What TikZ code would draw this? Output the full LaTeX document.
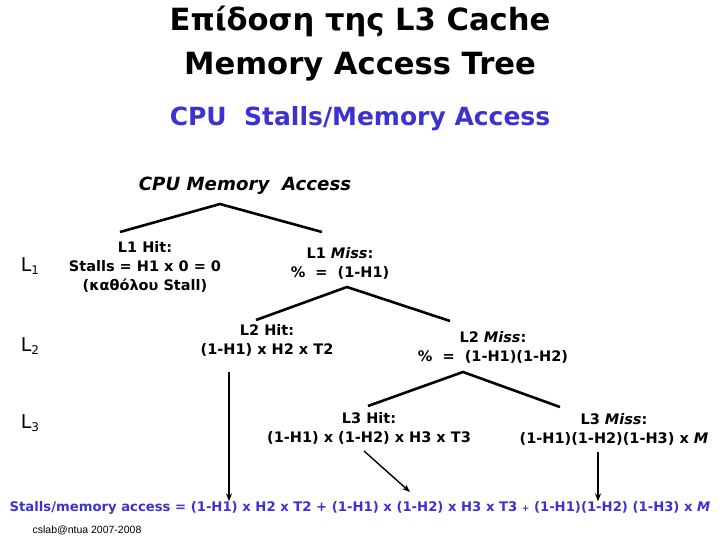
\documentclass[tikz,border=0pt]{standalone}
\usepackage{fontspec}
\setmainfont{DejaVu Sans}
\newfontfamily\footfont{Liberation Sans}
\usepackage{tikz}
\usetikzlibrary{arrows.meta,positioning}
\definecolor{slideblue}{RGB}{60,50,210}
\newcommand{\lev}[1]{L{\raisebox{-0.35ex}{\fontsize{12}{12}\selectfont #1}}}

\begin{document}
\begin{tikzpicture}[
  x=1pt, y=-1pt,
  ttl/.style={align=center, font=\bfseries\fontsize{30.6}{44}\selectfont, inner sep=0pt},
  sub/.style={text=slideblue, font=\bfseries\fontsize{25}{30}\selectfont, inner sep=0pt},
  lbl/.style={align=center, font=\bfseries\fontsize{14.5}{19}\selectfont, inner sep=0pt},
  lvl/.style={font=\fontsize{19}{24}\selectfont, inner sep=0pt},
  branch/.style={line width=2.6pt},
  arrow/.style={-{Stealth[length=8pt,width=6pt]}, line width=1.4pt}
]
\useasboundingbox (0,0) rectangle (720,540);
% headings
\node[ttl] (title) at (360,44) {Επίδοση της L3 Cache\\Memory Access Tree};
\node[sub] (stalls) at (360,119) {CPU\ \ Stalls/Memory Access};
\node[font=\bfseries\itshape\fontsize{18.2}{23}\selectfont, inner sep=0pt] (root) at (245,186) {CPU Memory\ \ Access};
% levels
\node[lvl] (lev1) at (30,266) {\lev{1}};
\node[lvl] (lev2) at (30,346) {\lev{2}};
\node[lvl] (lev3) at (30,423) {\lev{3}};
% tree nodes
\node[lbl] (l1hit) at (145,267) {L1 Hit:\\Stalls = H1 x 0 = 0\\(καθόλου Stall)};
\node[lbl] (l1miss) at (340,263) {L1 \textit{Miss}:\\\% \ = \ (1-H1)};
\node[lbl] (l2hit) at (267,340) {L2 Hit:\\(1-H1) x H2 x T2};
\node[lbl] (l2miss) at (493,347) {L2 \textit{Miss}:\\\% \ = \ (1-H1)(1-H2)};
\node[lbl] (l3hit) at (369,428) {L3 Hit:\\(1-H1) x (1-H2) x H3 x T3};
\node[lbl] (l3miss) at (614,429) {L3 \textit{Miss}:\\(1-H1)(1-H2)(1-H3) x \textit{M}};
\node[text=slideblue, font=\bfseries\fontsize{13.2}{16}\selectfont, inner sep=0pt] (total) at (360,508)
  {Stalls/memory access = (1-H1) x H2 x T2 + (1-H1) x (1-H2) x H3 x T3 {\fontsize{9}{12}\selectfont+} (1-H1)(1-H2) (1-H3) x \textit{M}};
\node[font=\footfont\fontsize{10.5}{12}\selectfont, inner sep=0pt] (foot) at (87,530) {cslab@ntua 2007-2008};
% branch points
\coordinate (top1) at (220,204);
\coordinate (hit1) at (120,232);
\coordinate (miss1) at (322,232);
\coordinate (top2) at (347,287);
\coordinate (hit2) at (256,320);
\coordinate (miss2) at (450,321);
\coordinate (top3) at (463,372);
\coordinate (hit3) at (368,406);
\coordinate (miss3) at (560,407);
\draw[branch] (hit1) -- (top1) -- (miss1);
\draw[branch] (hit2) -- (top2) -- (miss2);
\draw[branch] (hit3) -- (top3) -- (miss3);
% arrows to the sum
\coordinate (from2) at (229,372);
\coordinate (from3) at (364,451);
\coordinate (fromm) at (598,452);
\draw[arrow] (from2) -- (from2 |- total.north);
\draw[arrow] (from3) -- (410,492);
\draw[arrow] (fromm) -- (fromm |- total.north);
\end{tikzpicture}
\end{document}
